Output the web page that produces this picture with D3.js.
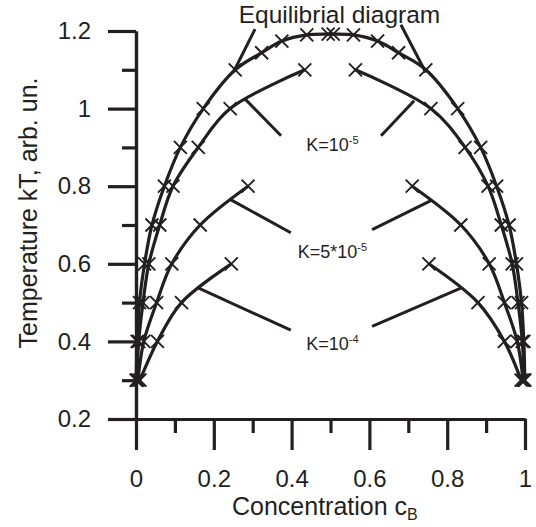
<!DOCTYPE html>
<html>
<head>
<meta charset="utf-8">
<script src="https://cdn.jsdelivr.net/npm/d3@7"></script>
<style>
  html, body { margin: 0; padding: 0; background: #fff; }
  svg { display: block; }
  text { font-family: Arial, "Liberation Sans", sans-serif; fill: #231f20; }
</style>
</head>
<body>
<svg id="chart" width="536" height="527"></svg>
<script>
// ---------- data ----------
// Equilibrial diagram
const eqTemps = [0.3, 0.4, 0.5, 0.6, 0.7, 0.8, 0.9, 1.0, 1.1, 1.144, 1.174, 1.19, 1.192];
const eqLeft  = [0.0005, 0.003, 0.009, 0.022, 0.041, 0.073, 0.114, 0.173, 0.255, 0.323, 0.375, 0.439, 0.494];
const eqRight = [0.9995, 0.997, 0.991, 0.978, 0.959, 0.927, 0.886, 0.827, 0.745, 0.675, 0.621, 0.559, 0.507];

// K = 1e-5
const k1Temps = [0.3, 0.4, 0.5, 0.6, 0.7, 0.8, 0.9, 1.0, 1.1];
const k1Left  = [0.002, 0.007, 0.018, 0.033, 0.061, 0.095, 0.16, 0.242, 0.434];
const k1Right = [0.998, 0.993, 0.982, 0.967, 0.939, 0.905, 0.846, 0.758, 0.564];

// K = 5e-5
const k2Temps = [0.3, 0.4, 0.5, 0.6, 0.7, 0.8];
const k2Left  = [0.005, 0.02, 0.053, 0.092, 0.165, 0.288];
const k2Right = [0.995, 0.98, 0.947, 0.908, 0.835, 0.71];

// K = 1e-4
const k3Temps = [0.3, 0.4, 0.5, 0.6];
const k3Left  = [0.01, 0.055, 0.117, 0.245];
const k3Right = [0.99, 0.947, 0.879, 0.753];

// axes ticks
const xMajorTicks = [0, 0.2, 0.4, 0.6, 0.8, 1];
const xMinorTicks = [0.1, 0.3, 0.5, 0.7, 0.9];
const yMajorTicks = [0.2, 0.4, 0.6, 0.8, 1.0, 1.2];
const yMinorTicks = [0.3, 0.5, 0.7, 0.9, 1.1];
const xTickLabels = ["0", "0.2", "0.4", "0.6", "0.8", "1"];
const yTickLabels = ["0.2", "0.4", "0.6", "0.8", "1", "1.2"];

// annotation leader segments in data units [c1, T1, c2, T2]
const leaderEq  = [[0.306, 1.205, 0.25, 1.093], [0.681, 1.216, 0.745, 1.093]];
const leaderK1  = [[0.28, 1.025, 0.373, 0.93], [0.715, 1.02, 0.63, 0.93]];
const leaderK2  = [[0.242, 0.766, 0.398, 0.68], [0.758, 0.763, 0.607, 0.688]];
const leaderK3  = [[0.157, 0.539, 0.398, 0.429], [0.835, 0.537, 0.607, 0.439]];

// ---------- drawing ----------
const ink = "#231f20";
const svg = d3.select("#chart");
const x = d3.scaleLinear().domain([0, 1]).range([136, 525]);
const y = d3.scaleLinear().domain([0.2, 1.2]).range([419, 31]);

const zip = (cs, ts) => cs.map((c, i) => ({ c: c, t: ts[i] }));

// axes
const yAxis = d3.axisLeft(y).tickValues(yMajorTicks).tickSize(28).tickSizeOuter(0)
  .tickFormat((d, i) => yTickLabels[i]).tickPadding(17);
const yMinor = d3.axisLeft(y).tickValues(yMinorTicks).tickSize(14).tickSizeOuter(0).tickFormat("");
const xAxis = d3.axisBottom(x).tickValues(xMajorTicks).tickSize(31).tickSizeOuter(0)
  .tickFormat((d, i) => xTickLabels[i]).tickPadding(20);
const xMinor = d3.axisBottom(x).tickValues(xMinorTicks).tickSize(14).tickSizeOuter(0).tickFormat("");

function styleAxis(g) {
  g.selectAll("path.domain").attr("stroke", ink).attr("stroke-width", 3.2);
  g.selectAll(".tick line").attr("stroke", ink).attr("stroke-width", 3.2);
  g.selectAll(".tick text").attr("fill", ink).attr("font-size", 24)
    .attr("font-family", 'Arial, "Liberation Sans", sans-serif');
}
svg.append("g").attr("transform", `translate(${x(0)},0)`).call(yMinor).call(styleAxis);
svg.append("g").attr("transform", `translate(${x(0)},0)`).call(yAxis).call(styleAxis);
svg.append("g").attr("transform", `translate(0,${y(0.2)})`).call(xMinor).call(styleAxis);
svg.append("g").attr("transform", `translate(0,${y(0.2)})`).call(xAxis).call(styleAxis);

// curves
const line = d3.line().x(d => x(d.c)).y(d => y(d.t)).curve(d3.curveCatmullRom.alpha(0.5));
const curves = [
  zip(eqLeft, eqTemps).concat(zip(eqRight, eqTemps).reverse()),
  zip(k1Left, k1Temps), zip(k1Right, k1Temps),
  zip(k2Left, k2Temps), zip(k2Right, k2Temps),
  zip(k3Left, k3Temps), zip(k3Right, k3Temps)
];
svg.append("g").selectAll("path").data(curves).join("path")
  .attr("d", line).attr("fill", "none").attr("stroke", ink)
  .attr("stroke-width", 3.2).attr("stroke-linejoin", "round");

// markers
const pts = [].concat(...curves);
svg.append("g").selectAll("path").data(pts).join("path")
  .attr("transform", d => `translate(${x(d.c)},${y(d.t)})`)
  .attr("d", "M-6.5,-6.5L6.5,6.5M-6.5,6.5L6.5,-6.5")
  .attr("stroke", ink).attr("stroke-width", 1.9).attr("fill", "none");

// leaders
const leaders = [].concat(leaderEq, leaderK1, leaderK2, leaderK3);
svg.append("g").selectAll("line").data(leaders).join("line")
  .attr("x1", d => x(d[0])).attr("y1", d => y(d[1]))
  .attr("x2", d => x(d[2])).attr("y2", d => y(d[3]))
  .attr("stroke", ink).attr("stroke-width", 3);

// labels
svg.append("text").attr("x", x(0.523)).attr("y", y(1.2205))
  .attr("text-anchor", "middle").attr("font-size", 24.5).text("Equilibrial diagram");

function kLabel(cx, ty, main, sup) {
  const t = svg.append("text").attr("x", x(cx)).attr("y", y(ty))
    .attr("text-anchor", "middle").attr("font-size", 18);
  t.append("tspan").text(main);
  t.append("tspan").attr("font-size", 11).attr("dy", -7).text(sup);
}
kLabel(0.505, 0.8915, "K=10", "-5");
kLabel(0.505, 0.614, "K=5*10", "-5");
kLabel(0.505, 0.377, "K=10", "-4");

// axis titles
const xt = svg.append("text").attr("x", 232).attr("y", 515).attr("font-size", 25);
xt.append("tspan").text("Concentration c");
xt.append("tspan").attr("font-size", 16).attr("dy", 5).text("B");

svg.append("text").attr("transform", "translate(37,213) rotate(-90)")
  .attr("text-anchor", "middle").attr("font-size", 25).text("Temperature kT, arb. un.");
</script>
</body>
</html>
